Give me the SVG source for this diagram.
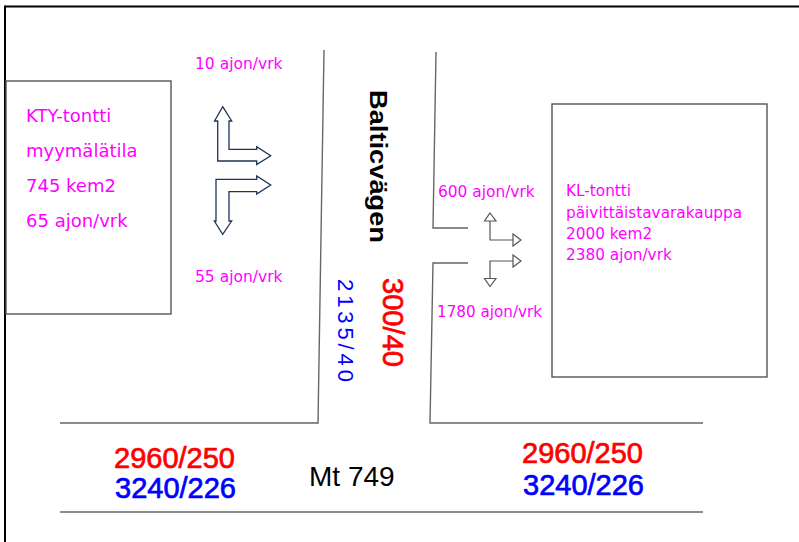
<svg xmlns="http://www.w3.org/2000/svg" width="799" height="542" viewBox="0 0 799 542">
<style>
.frame{stroke:#000;stroke-width:2;fill:none}
.box{stroke:#555;stroke-width:1.4;fill:#fff}
.road{stroke:#666;stroke-width:1.4;fill:none}
.mag{fill:#ff00ff;font-family:"DejaVu Sans",sans-serif}
.big{font-family:"Liberation Sans",Arial,sans-serif;font-size:29px;stroke-width:0.7px}
.red{fill:#ff0000;stroke:#ff0000}
.blue{fill:#0000ff;stroke:#0000ff}
.thinblue{fill:#0000ff;font-family:"Liberation Sans",Arial,sans-serif;font-size:22px}
.fat{fill:#fff;stroke:#1f3458;stroke-width:1.3;stroke-linejoin:miter}
.thin{fill:none;stroke:#555;stroke-width:1.2}
.head{fill:#fff;stroke:#555;stroke-width:1.2;stroke-linejoin:miter}
</style>
<rect width="799" height="542" fill="#fff"/>
<g id="frame">
<line class="frame" x1="5" y1="6.5" x2="799" y2="6.5"/>
<line class="frame" x1="5" y1="5.5" x2="5" y2="542"/>
</g>
<g id="connectors">
<polyline class="road" points="324,50 318,423 60,423"/>
<polyline class="road" points="436,52 433,228 468,228"/>
<polyline class="road" points="468,263 433,263 430,423 703,423"/>
<line class="road" x1="60" y1="512" x2="703" y2="512"/>
</g>
<g id="kty">
<rect class="box" x="6" y="81" width="165" height="233"/>
<text class="mag" font-size="18" x="26" y="122">KTY-tontti</text>
<text class="mag" font-size="18" x="26" y="157">myymälätila</text>
<text class="mag" font-size="18" x="26" y="192">745 kem2</text>
<text class="mag" font-size="18" x="26" y="227">65 ajon/vrk</text>
</g>
<g id="kl">
<rect class="box" x="552" y="104" width="215" height="273"/>
<text class="mag" font-size="15.3" x="566" y="196">KL-tontti</text>
<text class="mag" font-size="15.3" x="566" y="218">päivittäistavarakauppa</text>
<text class="mag" font-size="15.3" x="566" y="239">2000 kem2</text>
<text class="mag" font-size="15.3" x="566" y="260">2380 ajon/vrk</text>
</g>
<g id="kty-arrows">
<polygon class="fat" points="222.7,106.7 231.7,121 229,121 229,149.3 256.7,149.3 256.7,146.7 270.7,155.7 256.7,164.5 256.7,161 217.7,161 217.7,121 214.5,121"/>
<polygon class="fat" points="216,179.3 256.7,179.3 256.7,176 270.7,185 256.7,194 256.7,191.7 229,191.7 229,221 231.7,221 222.7,234.3 214.3,221 216,221"/>
<text class="mag" font-size="15.5" x="195" y="69">10 ajon/vrk</text>
<text class="mag" font-size="15.5" x="195" y="282">55 ajon/vrk</text>
</g>
<g id="kl-arrows">
<polyline class="thin" points="490,221 490,240 513,240"/>
<polygon class="head" points="490,213 496,221 484.5,221"/>
<polygon class="head" points="513,234 521,240 513,246"/>
<polyline class="thin" points="490,278 490,261 513,261"/>
<polygon class="head" points="513,255 521,261 513,267"/>
<polygon class="head" points="490,286.5 496,278.5 484.5,278.5"/>
<text class="mag" font-size="15.4" x="438" y="197">600 ajon/vrk</text>
<text class="mag" font-size="15.2" x="437" y="317">1780 ajon/vrk</text>
</g>
<g id="balticvagen">
<text transform="translate(370,90) rotate(90)" font-family="Liberation Sans,Arial,sans-serif" font-weight="bold" font-size="24" textLength="153" lengthAdjust="spacingAndGlyphs">Balticvägen</text>
<text class="big red" transform="translate(383,278) rotate(90)" textLength="89" lengthAdjust="spacingAndGlyphs">300/40</text>
<text class="thinblue" transform="translate(338,279) rotate(90)" textLength="103" lengthAdjust="spacing">2135/40</text>
</g>
<g id="mt749">
<text font-family="Liberation Sans,Arial,sans-serif" font-size="28" x="309" y="486">Mt 749</text>
<text class="big red" x="114" y="468">2960/250</text>
<text class="big blue" x="115" y="498">3240/226</text>
<text class="big red" x="522" y="463">2960/250</text>
<text class="big blue" x="523" y="495">3240/226</text>
</g>
</svg>
